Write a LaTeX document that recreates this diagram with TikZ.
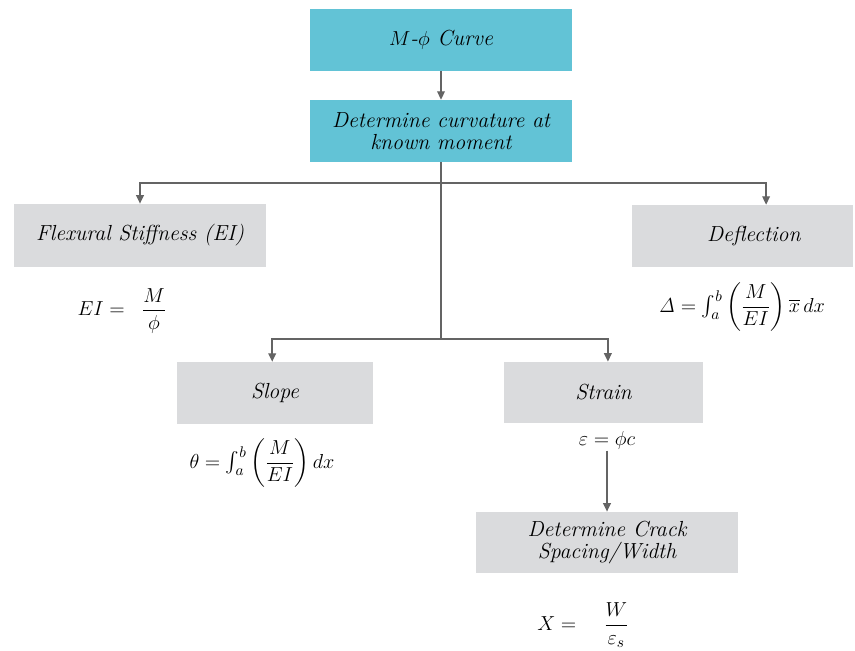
\documentclass[tikz,border=0pt]{standalone}
\usepackage{amsmath}
\usepackage{tikz}
\usetikzlibrary{arrows.meta}

\definecolor{tealbox}{RGB}{98,195,214}
\definecolor{greybox}{RGB}{218,219,221}
\definecolor{linegrey}{RGB}{100,100,100}

\begin{document}
\begin{tikzpicture}[x=0.025cm, y=-0.025cm,
        box/.style={fill=greybox, inner sep=0pt, align=center,
            font=\fontsize{15.5}{15.5}\selectfont\itshape},
        topbox/.style={box, fill=tealbox},
        eqn/.style={inner sep=1pt, font=\fontsize{15.5}{15.5}\selectfont},
        arr/.style={-{Triangle[length=6pt, width=5.5pt]}, line width=1pt, draw=linegrey}]
            \useasboundingbox (0, 0) rectangle (855, 651);

            \node[topbox, minimum width=6.55cm, minimum height=1.55cm] (mphi) at (441, 40) {$M$-$\phi$ Curve};
            \node[topbox, minimum width=6.55cm, minimum height=1.55cm] (det) at (441, 131) {Determine curvature at\\known moment};

            \node[box, minimum width=6.32cm, minimum height=1.58cm] (flex) at (140, 235.5) {Flexural Stiffness (EI)};
            \node[box, minimum width=5.48cm, minimum height=1.55cm, text width=2.9cm, inner xsep=1.3cm, align=right] (defl) at (742.5, 236) {Deflection};
            \node[box, minimum width=4.9cm, minimum height=1.55cm] (slope) at (275, 393) {Slope};
            \node[box, minimum width=4.98cm, minimum height=1.53cm] (strain) at (603.5, 392.5) {Strain};
            \node[box, minimum width=6.55cm, minimum height=1.53cm] (crack) at (607, 542.5) {Determine Crack\\Spacing/Width};

            \node[eqn] (eqEI) at (122, 311) {$EI = \;\; \dfrac{M}{\phi}$};
            \node[eqn] (eqDefl) at (742, 307) {$\mathit{\Delta} = {\textstyle\int_a^b}\, \biggl(\dfrac{M}{EI}\biggr)\, \overline{x}\, dx$};
            \node[eqn] (eqSlope) at (262, 463) {$\theta = {\textstyle\int_a^b}\, \biggl(\dfrac{M}{EI}\biggr)\, dx$};
            \node[eqn] (eqStrain) at (607, 440) {$\varepsilon = \phi c$};
            \node[eqn] (eqCrack) at (583, 625) {$X = \quad \dfrac{W}{\varepsilon_s}$};

            \coordinate (split1) at (441, 183);
            \coordinate (split2) at (441, 339);

            \draw[arr] (mphi) -- (det);
            \draw[line width=1pt, linegrey] (det.south) -- (split2);
            \draw[arr] (split1) -| (flex.north);
            \draw[arr] (split1) -| ([xshift=0.59cm]defl.north);
            \draw[arr] (split2) -| ([xshift=-0.07cm]slope.north);
            \draw[arr] (split2) -| ([xshift=0.11cm]strain.north);
            \draw[arr] (eqStrain) -- (crack);
        \end{tikzpicture}
\end{document}
